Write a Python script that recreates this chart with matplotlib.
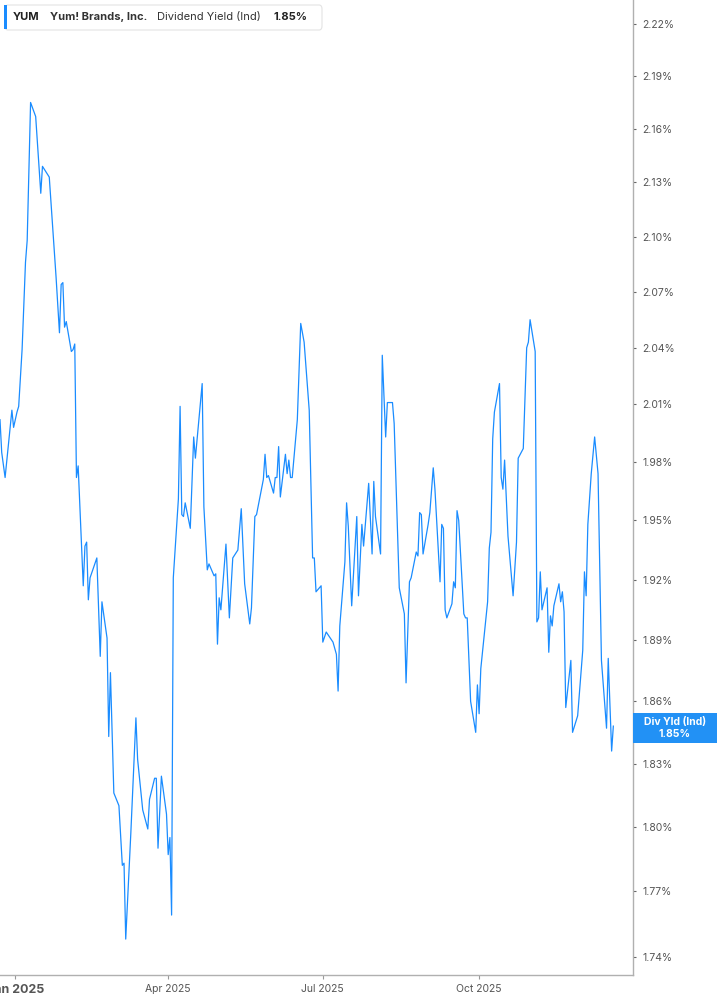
import matplotlib
matplotlib.use("Agg")
import matplotlib.pyplot as plt
import matplotlib.dates as mdates
import matplotlib.ticker as mticker
from matplotlib.patches import Rectangle, FancyBboxPatch
import pandas as pd

plt.rcParams['font.family'] = ['Inter', 'DejaVu Sans']

# dividend yield (%)
dates = [
    "2024-12-23", "2024-12-24", "2024-12-26", "2024-12-30", "2024-12-31",
    "2025-01-02", "2025-01-03", "2025-01-05", "2025-01-07", "2025-01-08",
    "2025-01-10", "2025-01-13", "2025-01-16", "2025-01-17", "2025-01-21",
    "2025-01-22", "2025-01-25", "2025-01-27", "2025-01-28", "2025-01-29",
    "2025-01-30", "2025-01-31", "2025-02-03", "2025-02-04", "2025-02-05",
    "2025-02-06", "2025-02-07", "2025-02-10", "2025-02-11", "2025-02-12",
    "2025-02-13", "2025-02-14", "2025-02-18", "2025-02-20", "2025-02-21",
    "2025-02-24", "2025-02-25", "2025-02-26", "2025-02-28", "2025-03-03",
    "2025-03-05", "2025-03-06", "2025-03-07", "2025-03-10", "2025-03-13",
    "2025-03-14", "2025-03-17", "2025-03-20", "2025-03-21", "2025-03-24",
    "2025-03-25", "2025-03-26", "2025-03-28", "2025-03-31", "2025-04-01",
    "2025-04-02", "2025-04-03", "2025-04-04", "2025-04-07", "2025-04-08",
    "2025-04-09", "2025-04-10", "2025-04-11", "2025-04-14", "2025-04-16",
    "2025-04-17", "2025-04-21", "2025-04-22", "2025-04-24", "2025-04-25",
    "2025-04-28", "2025-04-29", "2025-04-30", "2025-05-01", "2025-05-02",
    "2025-05-05", "2025-05-07", "2025-05-09", "2025-05-12", "2025-05-14",
    "2025-05-16", "2025-05-19", "2025-05-20", "2025-05-22", "2025-05-23",
    "2025-05-27", "2025-05-28", "2025-05-29", "2025-05-30", "2025-06-02",
    "2025-06-03", "2025-06-04", "2025-06-05", "2025-06-06", "2025-06-09",
    "2025-06-10", "2025-06-11", "2025-06-12", "2025-06-13", "2025-06-16",
    "2025-06-18", "2025-06-20", "2025-06-23", "2025-06-25", "2025-06-26",
    "2025-06-27", "2025-06-30", "2025-07-01", "2025-07-03", "2025-07-07",
    "2025-07-09", "2025-07-10", "2025-07-11", "2025-07-14", "2025-07-15",
    "2025-07-16", "2025-07-18", "2025-07-21", "2025-07-22", "2025-07-24",
    "2025-07-25", "2025-07-28", "2025-07-30", "2025-07-31", "2025-08-01",
    "2025-08-04", "2025-08-05", "2025-08-07", "2025-08-08", "2025-08-11",
    "2025-08-12", "2025-08-15", "2025-08-18", "2025-08-19", "2025-08-21",
    "2025-08-22", "2025-08-25", "2025-08-26", "2025-08-27", "2025-08-28",
    "2025-08-29", "2025-09-01", "2025-09-02", "2025-09-04", "2025-09-05",
    "2025-09-08", "2025-09-09", "2025-09-10", "2025-09-11", "2025-09-12",
    "2025-09-15", "2025-09-16", "2025-09-17", "2025-09-18", "2025-09-19",
    "2025-09-22", "2025-09-23", "2025-09-24", "2025-09-26", "2025-09-29",
    "2025-09-30", "2025-10-01", "2025-10-02", "2025-10-06", "2025-10-07",
    "2025-10-08", "2025-10-09", "2025-10-10", "2025-10-13", "2025-10-14",
    "2025-10-15", "2025-10-16", "2025-10-18", "2025-10-21", "2025-10-23",
    "2025-10-24", "2025-10-27", "2025-10-29", "2025-10-30", "2025-10-31",
    "2025-11-03", "2025-11-04", "2025-11-05", "2025-11-06", "2025-11-07",
    "2025-11-10", "2025-11-11", "2025-11-12", "2025-11-13", "2025-11-14",
    "2025-11-17", "2025-11-18", "2025-11-19", "2025-11-20", "2025-11-21",
    "2025-11-24", "2025-11-25", "2025-11-28", "2025-12-01", "2025-12-02",
    "2025-12-03", "2025-12-04", "2025-12-06", "2025-12-08", "2025-12-10",
    "2025-12-12", "2025-12-15", "2025-12-16", "2025-12-18", "2025-12-19",
]
div_yield = [
    2.002, 1.985, 1.972, 2.007, 1.998,
    2.006, 2.009, 2.039, 2.086, 2.098,
    2.175, 2.167, 2.124, 2.139, 2.133,
    2.119, 2.078, 2.048, 2.074, 2.075,
    2.051, 2.054, 2.038, 2.039, 2.042,
    1.972, 1.978, 1.917, 1.937, 1.939,
    1.910, 1.921, 1.931, 1.882, 1.909,
    1.891, 1.843, 1.874, 1.816, 1.810,
    1.782, 1.783, 1.748, 1.797, 1.852,
    1.832, 1.808, 1.799, 1.813, 1.823,
    1.823, 1.790, 1.824, 1.806, 1.787,
    1.795, 1.759, 1.921, 1.961, 2.009,
    1.953, 1.952, 1.959, 1.946, 1.993,
    1.982, 2.021, 1.957, 1.925, 1.928,
    1.922, 1.923, 1.888, 1.911, 1.905,
    1.938, 1.901, 1.931, 1.935, 1.956,
    1.918, 1.898, 1.906, 1.952, 1.953,
    1.971, 1.984, 1.972, 1.973, 1.964,
    1.972, 1.972, 1.988, 1.962, 1.984,
    1.974, 1.981, 1.972, 1.972, 2.002,
    2.053, 2.043, 2.007, 1.931, 1.931,
    1.914, 1.917, 1.889, 1.894, 1.889,
    1.883, 1.865, 1.897, 1.929, 1.959,
    1.947, 1.907, 1.952, 1.912, 1.948,
    1.937, 1.969, 1.933, 1.970, 1.952,
    1.933, 2.036, 1.993, 2.011, 2.011,
    2.000, 1.916, 1.903, 1.869, 1.919,
    1.921, 1.934, 1.932, 1.954, 1.953,
    1.933, 1.948, 1.954, 1.977, 1.966,
    1.919, 1.948, 1.946, 1.905, 1.901,
    1.908, 1.919, 1.916, 1.955, 1.950,
    1.903, 1.901, 1.901, 1.860, 1.845,
    1.868, 1.854, 1.876, 1.909, 1.936,
    1.944, 1.992, 2.006, 2.021, 1.972,
    1.966, 1.981, 1.942, 1.912, 1.939,
    1.982, 1.987, 2.040, 2.043, 2.055,
    2.038, 1.899, 1.901, 1.924, 1.905,
    1.916, 1.884, 1.902, 1.897, 1.907,
    1.918, 1.909, 1.914, 1.904, 1.857,
    1.880, 1.845, 1.853, 1.885, 1.924,
    1.912, 1.948, 1.974, 1.993, 1.974,
    1.880, 1.847, 1.881, 1.836, 1.848,
]
y_ticks = [1.74, 1.77, 1.80, 1.83, 1.86, 1.89, 1.92, 1.95, 1.98,
           2.01, 2.04, 2.07, 2.10, 2.13, 2.16, 2.19, 2.22]
x_tick_dates = ["2025-01-01", "2025-04-01", "2025-07-01", "2025-10-01"]
x_tick_labels = ["Jan 2025", "Apr 2025", "Jul 2025", "Oct 2025"]
last_value = "1.85%"

W, H = 717, 1005
blue = '#1a8cff'
grey_txt = '#555555'

fig = plt.figure(figsize=(W / 100, H / 100), dpi=100)
ax = fig.add_axes([0, 30.5 / H, 632.7 / W, 974.5 / H])

x = pd.to_datetime(dates)
ax.plot(x, div_yield, color=blue, lw=0.9)

ax.set_yscale('log')
ax.set_ylim(1.7319, 2.2340)
ax.set_xlim(mdates.date2num(pd.Timestamp("2024-12-23")),
            mdates.date2num(pd.Timestamp("2025-12-30")) + 0.4)

ax.yaxis.set_major_locator(mticker.FixedLocator(y_ticks))
ax.yaxis.set_minor_locator(mticker.NullLocator())
ax.yaxis.set_major_formatter(mticker.FuncFormatter(lambda v, p: f"{v:.2f}%"))
ax.yaxis.tick_right()
ax.tick_params(axis='y', length=2, width=0.8, color='#666666', pad=5,
               labelsize=7.5, labelcolor=grey_txt)

ax.set_xticks(mdates.date2num(pd.to_datetime(x_tick_dates)))
ax.set_xticklabels(x_tick_labels)
ax.tick_params(axis='x', length=3, width=0.8, color='#999999', pad=3.5,
               labelsize=7.5, labelcolor=grey_txt)
jan = ax.get_xticklabels()[0]
jan.set_fontweight('bold')
jan.set_fontsize(9)

for s in ['top', 'left']:
    ax.spines[s].set_visible(False)
for s in ['right', 'bottom']:
    ax.spines[s].set_color('#b0b0b0')
    ax.spines[s].set_linewidth(1.0)


def fx(px):
    return px / W


def fy(py):
    return 1 - py / H


# current value tag on the axis
fig.patches.append(Rectangle((fx(633), fy(743)), fx(717) - fx(633), (743 - 713) / H,
                             transform=fig.transFigure, facecolor='#2291f5',
                             edgecolor='none'))
fig.text(fx(675), fy(721.5), "Div Yld (Ind)", color='white', fontsize=7.5,
         fontweight='bold', ha='center', va='center')
fig.text(fx(675), fy(734), last_value, color='white', fontsize=7.5,
         fontweight='bold', ha='center', va='center')

# legend box at the top
fig.patches.append(FancyBboxPatch((fx(5), fy(30)), fx(322) - fx(5), 25 / H,
                                  boxstyle="round,pad=0,rounding_size=0.004",
                                  transform=fig.transFigure, facecolor='white',
                                  edgecolor='#e3e3e3', lw=0.8))
fig.patches.append(Rectangle((fx(4), fy(29)), 3 / W, 24 / H,
                             transform=fig.transFigure, facecolor=blue,
                             edgecolor='none'))
ty = fy(17)
fig.text(fx(13), ty, "YUM", fontsize=8, fontweight='bold', color='#222222', va='center')
fig.text(fx(50), ty, "Yum! Brands, Inc.", fontsize=8, fontweight='bold', color='#333333', va='center')
fig.text(fx(157), ty, "Dividend Yield (Ind)", fontsize=8, color='#333333', va='center')
fig.text(fx(273), ty, last_value, fontsize=8, fontweight='bold', color='#222222', va='center')

fig.savefig("out.png", dpi=100)
